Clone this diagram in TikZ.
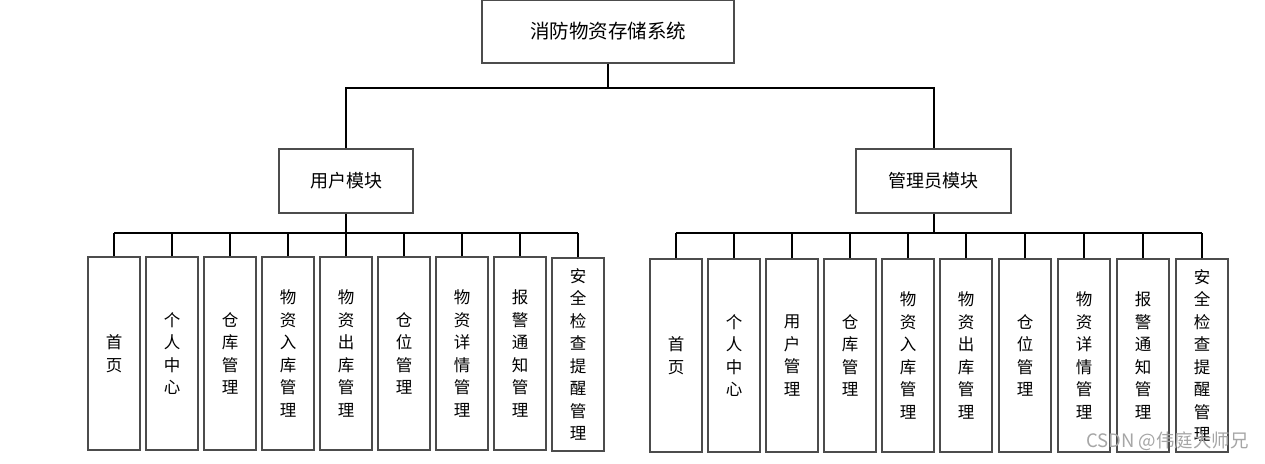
\documentclass[tikz,border=0pt]{standalone}
\usepackage{fontspec}
\setmainfont{Noto Sans CJK SC}
\begin{document}
\begin{tikzpicture}[x=1pt,y=-1pt,
  box/.style={draw=black!70,line width=1.2pt,fill=white,inner sep=0pt},
  leaf/.style={box,minimum width=52pt,minimum height=193pt,align=center,
     font=\fontsize{16.5}{22.5}\selectfont},
  bus/.style={line width=2pt,black},
  wm/.style={text=black!35,font=\fontsize{18.5}{20}\selectfont,inner sep=0pt}]
\useasboundingbox (0,0) rectangle (1265,463);
% root and modules
\node[box,minimum width=252pt,minimum height=63pt,font=\fontsize{19.5}{22}\selectfont] (root) at (608,31.5) {消防物资存储系统};
\node[box,minimum width=134pt,minimum height=64pt,font=\fontsize{18}{20}\selectfont] (lm) at (346,181) {用户模块};
\node[box,minimum width=155pt,minimum height=64pt,font=\fontsize{18}{20}\selectfont] (rm) at (933.5,181) {管理员模块};
\coordinate (tb) at (608,88);
\coordinate (lb) at (346,233);
\coordinate (rb) at (933.5,233);
% left leaves
\node[leaf] (l1) at (114,353.5) {首\\页};
\node[leaf] (l2) at (172,353.5) {个\\人\\中\\心};
\node[leaf] (l3) at (230,353.5) {仓\\库\\管\\理};
\node[leaf] (l4) at (288,353.5) {物\\资\\入\\库\\管\\理};
\node[leaf] (l5) at (346,353.5) {物\\资\\出\\库\\管\\理};
\node[leaf] (l6) at (404,353.5) {仓\\位\\管\\理};
\node[leaf] (l7) at (462,353.5) {物\\资\\详\\情\\管\\理};
\node[leaf] (l8) at (520,353.5) {报\\警\\通\\知\\管\\理};
\node[leaf] (l9) at (578,354.5) {安\\全\\检\\查\\提\\醒\\管\\理};
% right leaves
\node[leaf] (r1) at (676,355.5) {首\\页};
\node[leaf] (r2) at (734,355.5) {个\\人\\中\\心};
\node[leaf] (r3) at (792,355.5) {用\\户\\管\\理};
\node[leaf] (r4) at (850,355.5) {仓\\库\\管\\理};
\node[leaf] (r5) at (908,355.5) {物\\资\\入\\库\\管\\理};
\node[leaf] (r6) at (966,355.5) {物\\资\\出\\库\\管\\理};
\node[leaf] (r7) at (1025,355.5) {仓\\位\\管\\理};
\node[leaf] (r8) at (1084,355.5) {物\\资\\详\\情\\管\\理};
\node[leaf] (r9) at (1143,355.5) {报\\警\\通\\知\\管\\理};
\node[leaf] (r10) at (1202,355.5) {安\\全\\检\\查\\提\\醒\\管\\理};
% connectors
\draw[bus] (root.south) -- (tb);
\draw[bus] (lm.north) -- (lm.north |- tb) -- (rm.north |- tb) -- (rm.north);
\draw[bus] (lm.south) -- (lb);
\draw[bus] (l1.north |- lb) -- (l9.north |- lb);
\foreach \n in {l1,l2,l3,l4,l5,l6,l7,l8,l9}{\draw[bus,line width=1.6pt] (\n.north) -- (\n.north |- lb);}
\draw[bus] (rm.south) -- (rb);
\draw[bus] (r1.north |- rb) -- (r10.north |- rb);
\foreach \n in {r1,r2,r3,r4,r5,r6,r7,r8,r9,r10}{\draw[bus,line width=1.6pt] (\n.north) -- (\n.north |- rb);}
% watermark
\node[wm,anchor=east] (wmk) at (1249,441) {CSDN @伟庭大师兄};
\end{tikzpicture}
\end{document}
